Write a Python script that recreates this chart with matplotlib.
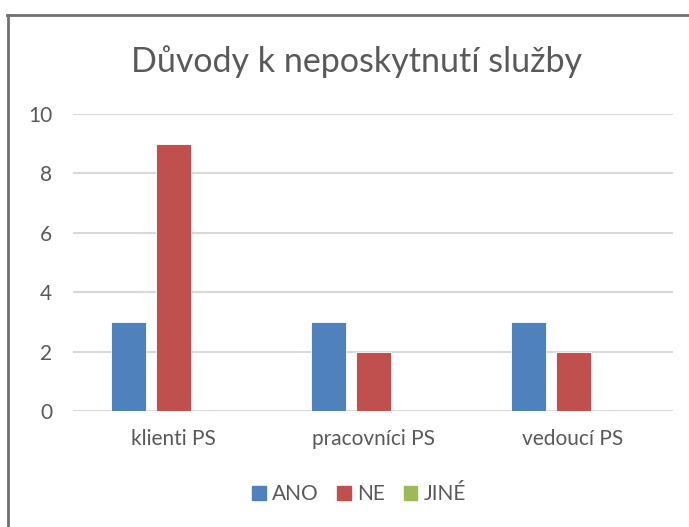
import matplotlib
matplotlib.use("Agg")
import matplotlib.pyplot as plt
import numpy as np
from matplotlib.patches import Rectangle
from matplotlib.lines import Line2D

categories = ["klienti PS", "pracovníci PS", "vedoucí PS"]
series_names = ["ANO", "NE", "JINÉ"]
ano = [3, 3, 3]
ne = [9, 2, 2]
jine = [0, 0, 0]
colors = ["#4F81BD", "#C0504D", "#9BBB59"]
title = "Důvody k neposkytnutí služby"

plt.rcParams['font.family'] = ['Lato', 'DejaVu Sans']
txt = "#595959"

fig = plt.figure(figsize=(6.89, 5.27), dpi=100)
W, H = 689, 527
ax = fig.add_axes([73 / W, 1 - 411 / H, 600 / W, (411 - 114) / H])

x = np.arange(len(categories))
bw = 0.175
step = 0.225
for i, (name, vals) in enumerate(zip(series_names, [ano, ne, jine])):
    ax.bar(x + (i - 1) * step, vals, width=bw, color=colors[i], label=name,
           edgecolor="#ffffff", linewidth=0.6, zorder=3)

ax.set_xlim(-0.5, len(categories) - 0.5)
ax.set_ylim(0, 10)
ax.set_yticks(np.arange(0, 11, 2))
ax.set_xticks(x)
ax.set_xticklabels(categories)
ax.tick_params(axis='both', length=0, colors=txt, labelsize=15)
ax.tick_params(axis='y', pad=15)
ax.tick_params(axis='x', pad=13)
for s in ax.spines.values():
    s.set_visible(False)
ax.grid(axis='y', color="#d9d9d9", linewidth=1.5, zorder=0)
ax.set_axisbelow(True)

fig.text(356 / W, 1 - 62 / H, title, ha='center', va='center', fontsize=24.5, color=txt)

handles = [Rectangle((0, 0), 1, 1, color=c) for c in colors]
fig.legend(handles, series_names, loc='center', bbox_to_anchor=(359 / W, 1 - 494 / H),
           ncol=3, frameon=False, fontsize=15, labelcolor=txt, handlelength=0.65,
           handleheight=0.65, handletextpad=0.3, columnspacing=0.9)

# chart border (left and top visible)
fig.add_artist(Line2D([8 / W, 8 / W], [0, 1 - 15 / H], color="#707070", linewidth=2,
                      transform=fig.transFigure))
fig.add_artist(Line2D([7 / W, 1], [1 - 15 / H, 1 - 15 / H], color="#707070", linewidth=2,
                      transform=fig.transFigure))

fig.savefig("out.png", dpi=100)
